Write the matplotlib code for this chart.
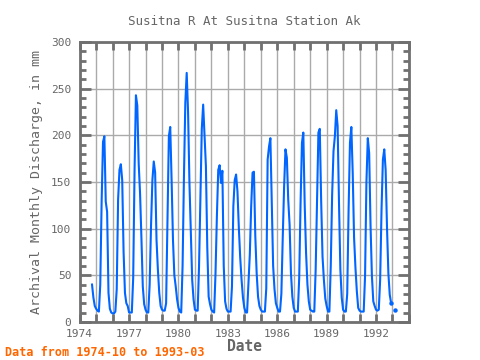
import numpy as np
import matplotlib
matplotlib.use("Agg")
import matplotlib.pyplot as plt
from matplotlib.ticker import MultipleLocator

# monthly discharge (mm), record starts 1974-10, ends 1993-03
q1974 = [40, 26, 17]
q1975 = [14, 12, 11, 40, 129, 193, 199, 129, 118, 31, 14, 10]
q1976 = [9, 9, 11, 35, 131, 163, 169, 152, 75, 31, 20, 17]
q1977 = [10, 10, 10, 47, 163, 243, 232, 170, 138, 90, 38, 19]
q1978 = [13, 10, 10, 40, 103, 152, 172, 160, 88, 56, 31, 17]
q1979 = [13, 12, 12, 20, 110, 199, 209, 152, 88, 50, 38, 24]
q1980 = [15, 11, 10, 60, 156, 235, 267, 225, 149, 99, 45, 24]
q1981 = [13, 12, 12, 60, 131, 207, 233, 199, 167, 80, 27, 19]
q1982 = [13, 11, 10, 52, 113, 163, 168, 149, 162, 60, 22, 14]
q1983 = [11, 11, 11, 38, 124, 152, 158, 140, 101, 69, 45, 26]
q1984 = [15, 10, 10, 40, 72, 124, 160, 161, 92, 52, 27, 17]
q1985 = [13, 11, 11, 11, 36, 174, 188, 197, 130, 60, 35, 20]
q1986 = [15, 11, 11, 30, 90, 145, 185, 176, 131, 104, 52, 27]
q1987 = [15, 11, 11, 11, 47, 128, 192, 203, 126, 74, 40, 22]
q1988 = [13, 12, 11, 11, 56, 130, 203, 207, 130, 70, 45, 25]
q1989 = [17, 11, 11, 60, 136, 183, 199, 227, 210, 128, 56, 26]
q1990 = [13, 11, 11, 30, 120, 192, 209, 160, 90, 58, 33, 15]
q1991 = [12, 11, 11, 11, 49, 150, 197, 181, 103, 49, 22, 17]
q1992 = [13, 12, 13, 45, 120, 174, 185, 163, 101, 52, 29, 20]
q1993 = [np.nan, np.nan, 12.5]

vals = np.array(q1974 + q1975 + q1976 + q1977 + q1978 + q1979 + q1980 + q1981
                + q1982 + q1983 + q1984 + q1985 + q1986 + q1987 + q1988 + q1989
                + q1990 + q1991 + q1992 + q1993, dtype=float)
t = 1974 + 9/12 + np.arange(len(vals)) / 12.0

# points beside the missing months get a dot
prev_nan = np.concatenate([[False], np.isnan(vals[:-1])])
next_nan = np.concatenate([np.isnan(vals[1:]), [False]])
edge = (prev_nan | next_nan) & ~np.isnan(vals)

mono = 'DejaVu Sans Mono'
gray = '#666666'
blue = '#0066ff'

fig = plt.figure(figsize=(4.8, 3.6), dpi=100)
ax = fig.add_axes([0.166, 0.106, 0.686, 0.777])

ax.plot(t, vals, color=blue, lw=1.5)
ax.plot(t[edge], vals[edge], 'o', color=blue, ms=3.2, mew=0)

ax.set_xlim(1974, 1994)
ax.set_ylim(0, 300)
ax.xaxis.set_major_locator(MultipleLocator(3))
ax.xaxis.set_minor_locator(MultipleLocator(1))
ax.yaxis.set_major_locator(MultipleLocator(50))
ax.yaxis.set_minor_locator(MultipleLocator(10))

ax.grid(True, which='major', axis='y', color='#aaaaaa', lw=1)
ax.grid(True, which='both', axis='x', color='#aaaaaa', lw=1)
ax.set_axisbelow(True)

for s in ax.spines.values():
    s.set_color('#707070')
    s.set_linewidth(2)

ax.tick_params(which='both', direction='in', colors='#707070', top=True, right=True,
               labelsize=8, labelcolor=gray)
ax.tick_params(axis='x', which='both', length=6, width=2, pad=5)
ax.tick_params(axis='y', which='major', length=8, width=2, pad=6)
ax.tick_params(axis='y', which='minor', length=4, width=2)
for lab in ax.get_xticklabels() + ax.get_yticklabels():
    lab.set_family(mono)

ax.set_title('Susitna R At Susitna Station Ak', family=mono, fontsize=9,
             color=gray, pad=12)
ax.set_ylabel('Archival Monthly Discharge, in mm', family=mono, fontsize=9.5,
              color=gray, labelpad=6)
ax.set_xlabel('Date', family=mono, fontsize=10.5, color=gray, fontweight='bold',
              labelpad=0)
fig.text(0.01, 0.01, 'Data from 1974-10 to 1993-03', family=mono, fontsize=8.5,
         color='#ff6600', fontweight='bold')

fig.savefig('out.png', dpi=100)
